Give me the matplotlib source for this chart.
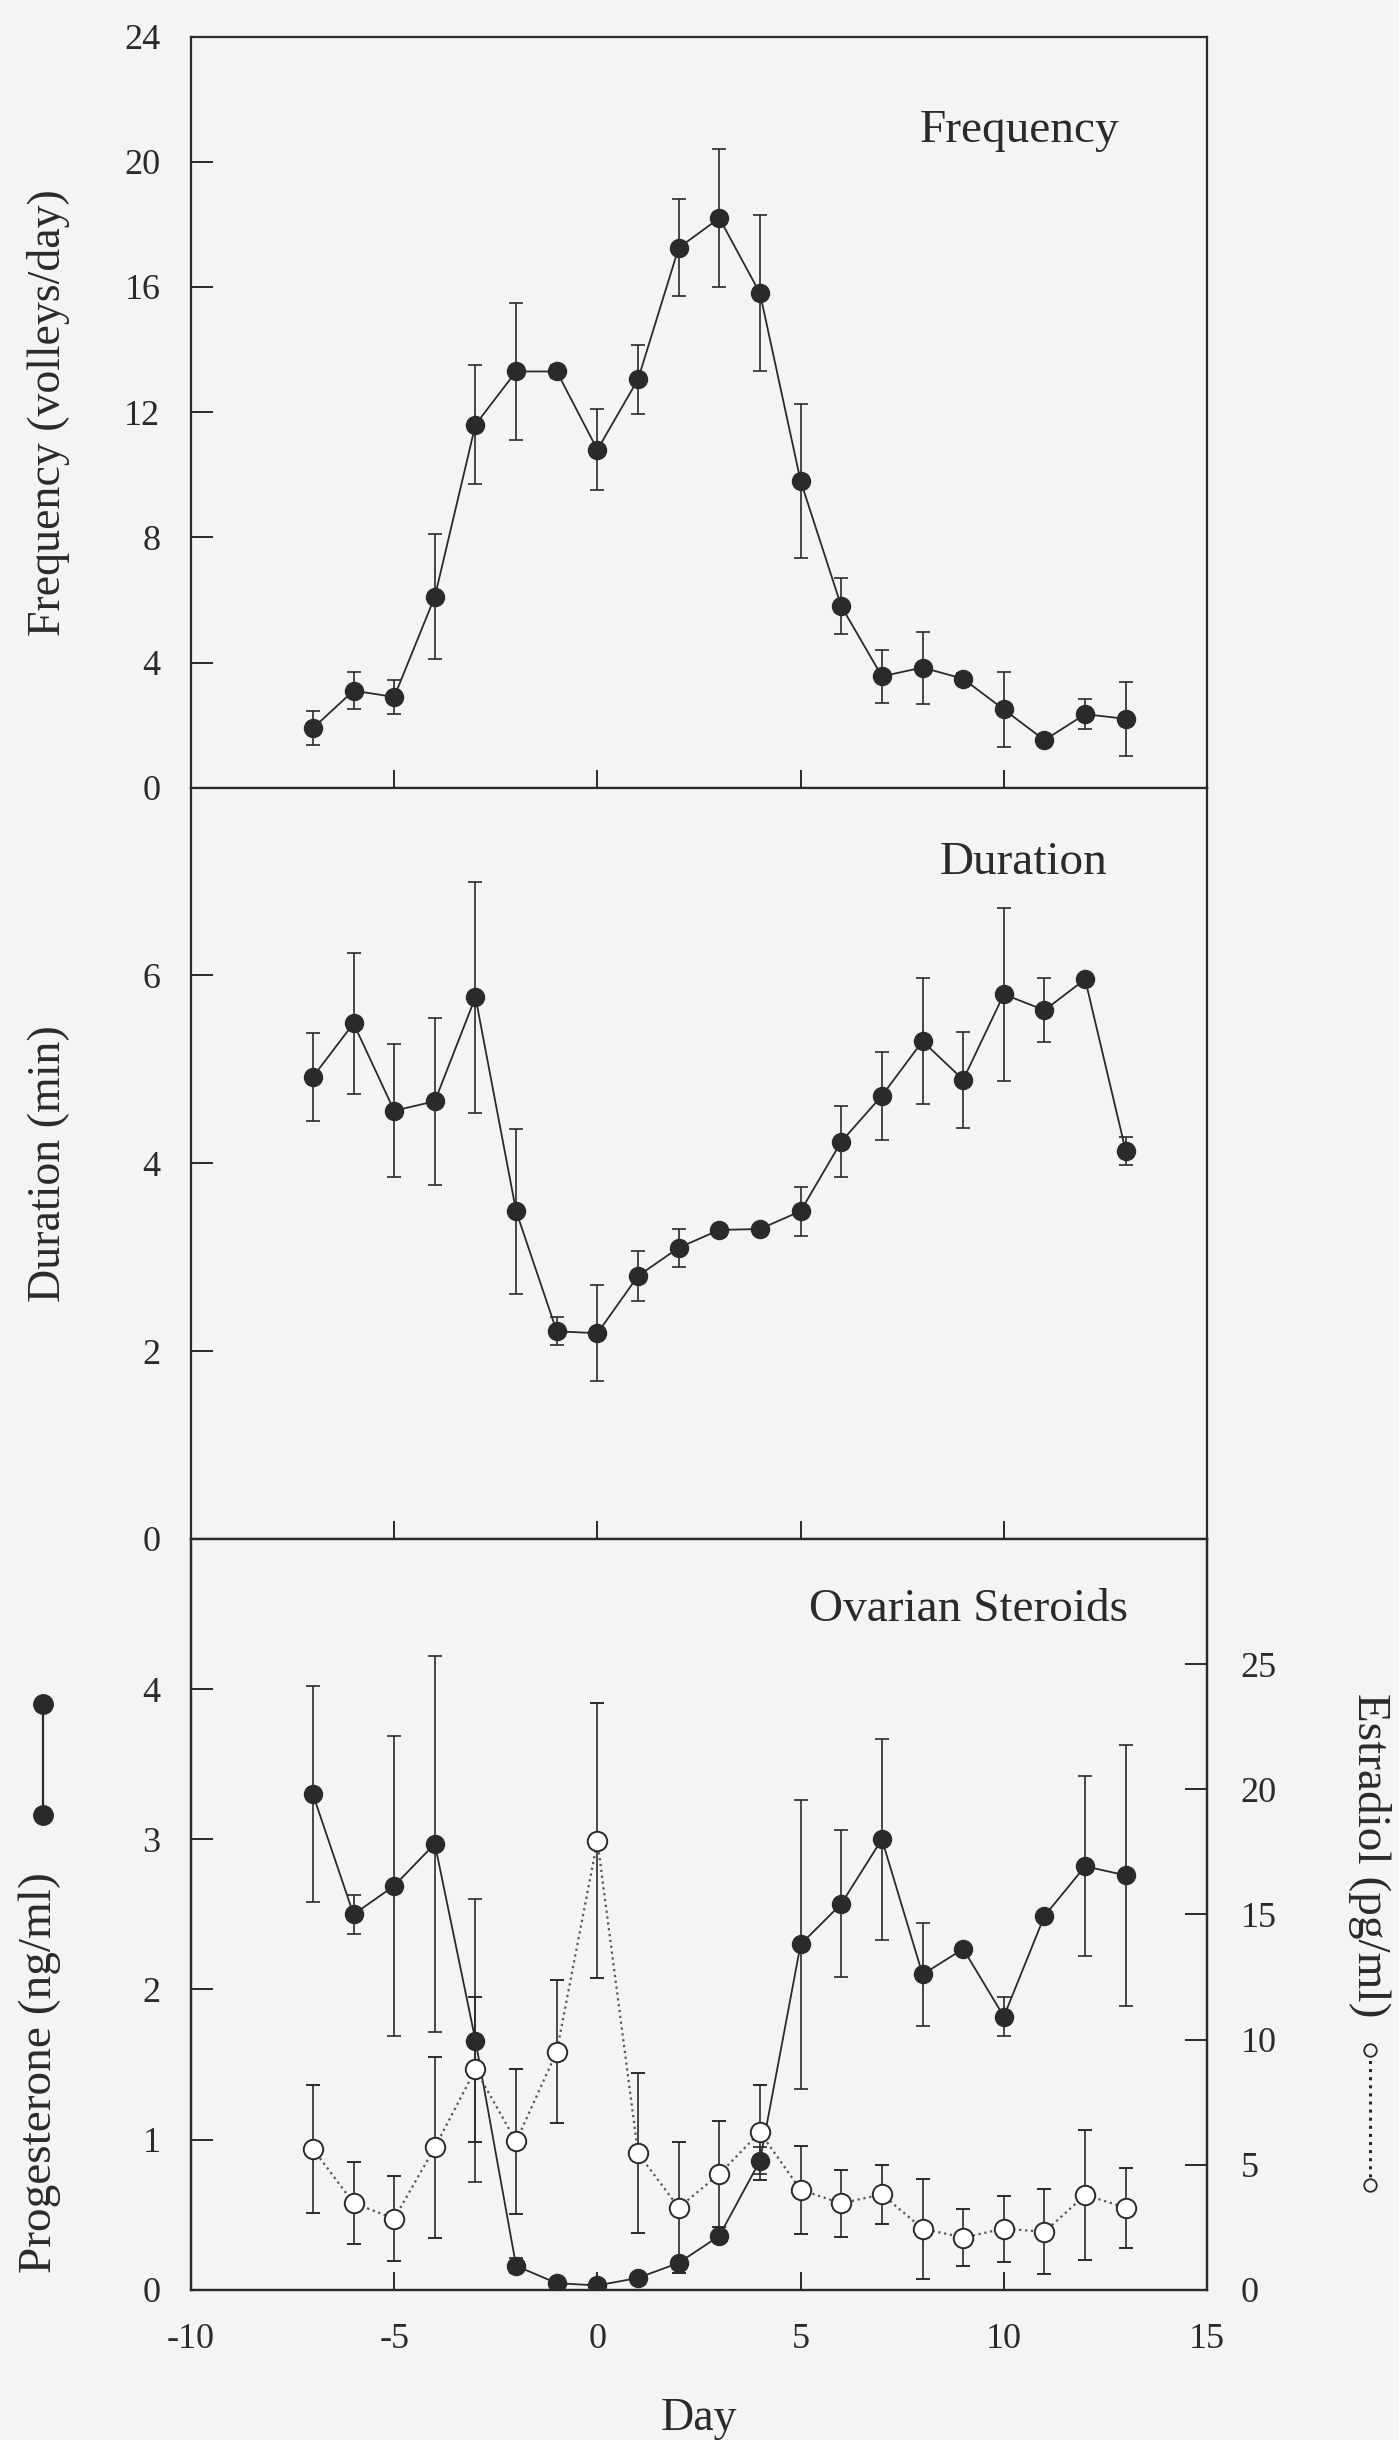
import numpy as np
import matplotlib
matplotlib.use('Agg')
import matplotlib.pyplot as plt

plt.rcParams['font.family'] = ['Liberation Serif', 'DejaVu Serif']
plt.rcParams['axes.unicode_minus'] = False

days = [-7, -6, -5, -4, -3, -2, -1, 0, 1, 2, 3, 4, 5, 6, 7, 8, 9, 10, 11, 12, 13]

# pulse frequency (volleys/day), mean and SE
freq = [1.9, 3.1, 2.9, 6.1, 11.6, 13.3, 13.3, 10.8, 13.05, 17.25, 18.2, 15.8,
        9.8, 5.8, 3.56, 3.84, 3.48, 2.5, 1.52, 2.35, 2.2]
freq_err = [0.55, 0.6, 0.55, 2.0, 1.9, 2.2, 0.2, 1.3, 1.1, 1.55, 2.2, 2.5,
            2.45, 0.9, 0.85, 1.15, 0.2, 1.2, 0.0, 0.48, 1.18]

# pulse duration (min)
dur = [4.92, 5.49, 4.56, 4.66, 5.77, 3.49, 2.21, 2.19, 2.8, 3.1, 3.29, 3.3,
       3.49, 4.23, 4.72, 5.3, 4.89, 5.8, 5.63, 5.96, 4.13]
dur_err = [0.47, 0.75, 0.71, 0.89, 1.23, 0.88, 0.15, 0.51, 0.27, 0.2, 0.0, 0.0,
           0.26, 0.38, 0.47, 0.67, 0.51, 0.92, 0.34, 0.0, 0.15]

# progesterone (ng/ml)
prog = [3.30, 2.50, 2.69, 2.97, 1.66, 0.16, 0.045, 0.03, 0.08, 0.18, 0.36, 0.86,
        2.30, 2.57, 3.0, 2.10, 2.27, 1.82, 2.49, 2.82, 2.76]
prog_err = [0.72, 0.13, 1.0, 1.25, 0.94, 0.05, 0.0, 0.0, 0.0, 0.0, 0.0, 0.09,
            0.96, 0.49, 0.67, 0.34, 0.0, 0.13, 0.0, 0.6, 0.87]

# estradiol (pg/ml)
estr = [5.64, 3.47, 2.85, 5.69, 8.81, 5.93, 9.52, 17.94, 5.46, 3.29, 4.63, 6.3,
        4.0, 3.46, 3.82, 2.45, 2.09, 2.45, 2.32, 3.79, 3.29]
estr_err = [2.55, 1.65, 1.7, 3.6, 2.9, 2.9, 2.85, 5.5, 3.2, 2.6, 2.1, 1.9,
            1.76, 1.34, 1.17, 2.0, 1.13, 1.32, 1.7, 2.6, 1.6]

ink = '#2a2a2a'
bg = '#f4f4f2'

fig, (ax1, ax2, ax3) = plt.subplots(3, 1, figsize=(13.99, 24.4), dpi=100, sharex=True)
fig.patch.set_facecolor(bg)
fig.subplots_adjust(left=0.1365, right=0.8628, bottom=0.0615, top=0.985, hspace=0)

def style(ax):
	ax.set_facecolor(bg)
	for s in ax.spines.values():
		s.set_linewidth(1.6)
		s.set_color(ink)
	ax.tick_params(direction='in', length=16, width=1.4, color=ink,
	               labelsize=26, labelcolor=ink, pad=22)
	ax.tick_params(axis='x', length=13, pad=24)

def series(ax, y, err, filled=True):
	if filled:
		ax.errorbar(days, y, yerr=err, fmt='o', ls='-', color=ink, lw=1.3,
		            ms=13, mfc=ink, mec=ink, ecolor=ink, elinewidth=1.2,
		            capsize=5, capthick=1.2, zorder=3)
	else:
		ax.errorbar(days, y, yerr=err, fmt='o', ls=':', color='#555555', lw=1.6,
		            ms=14, mfc='white', mec=ink, mew=1.4, ecolor=ink,
		            elinewidth=1.2, capsize=5, capthick=1.2, zorder=3)

for ax in (ax1, ax2, ax3):
	style(ax)
	ax.set_xlim(-10, 15)
	ax.set_xticks([-10, -5, 0, 5, 10, 15])

# Frequency
series(ax1, freq, freq_err)
ax1.set_ylim(0, 24)
ax1.set_yticks(np.arange(0, 25, 4))
ax1.set_ylabel('Frequency (volleys/day)', fontsize=33, color=ink)
ax1.yaxis.set_label_coords(-0.119, 0.5)
ax1.text(0.914, 0.874, 'Frequency', transform=ax1.transAxes, fontsize=34,
         color=ink, ha='right', va='center')

# Duration
series(ax2, dur, dur_err)
ax2.set_ylim(0, 8)
ax2.set_yticks([0, 2, 4, 6])
ax2.set_ylabel('Duration (min)', fontsize=33, color=ink)
ax2.yaxis.set_label_coords(-0.119, 0.5)
ax2.text(0.902, 0.9, 'Duration', transform=ax2.transAxes, fontsize=34,
         color=ink, ha='right', va='center')

# Ovarian steroids
ax3b = ax3.twinx()
style(ax3b)
series(ax3, prog, prog_err)
series(ax3b, estr, estr_err, filled=False)
ax3.set_ylim(0, 5)
ax3.set_yticks([0, 1, 2, 3, 4])
ax3b.set_ylim(0, 30)
ax3b.set_yticks([0, 5, 10, 15, 20, 25])
ax3b.tick_params(axis='y', pad=24)
ax3.set_ylabel('Progesterone (ng/ml)', fontsize=34, color=ink)
ax3.yaxis.set_label_coords(-0.128, 0.29)
ax3.set_xlabel('Day', fontsize=33, color=ink, labelpad=30)
ax3.text(0.922, 0.905, 'Ovarian Steroids', transform=ax3.transAxes, fontsize=34,
         color=ink, ha='right', va='center')

# key glyphs beside the axis titles
ax3.plot([-0.146, -0.146], [0.632, 0.78], 'o-', transform=ax3.transAxes,
         clip_on=False, color=ink, lw=1.6, ms=14)
ax3b.text(1.16, 0.579, 'Estradiol (pg/ml)', transform=ax3b.transAxes,
          fontsize=34, color=ink, rotation=270, ha='center', va='center')
ax3b.plot([1.16, 1.16], [0.14, 0.319], 'o:', transform=ax3b.transAxes,
          clip_on=False, color=ink, lw=2.2, ms=9, mfc=bg, mec=ink, mew=1.3)

fig.savefig('out.png', dpi=100, facecolor=bg)
